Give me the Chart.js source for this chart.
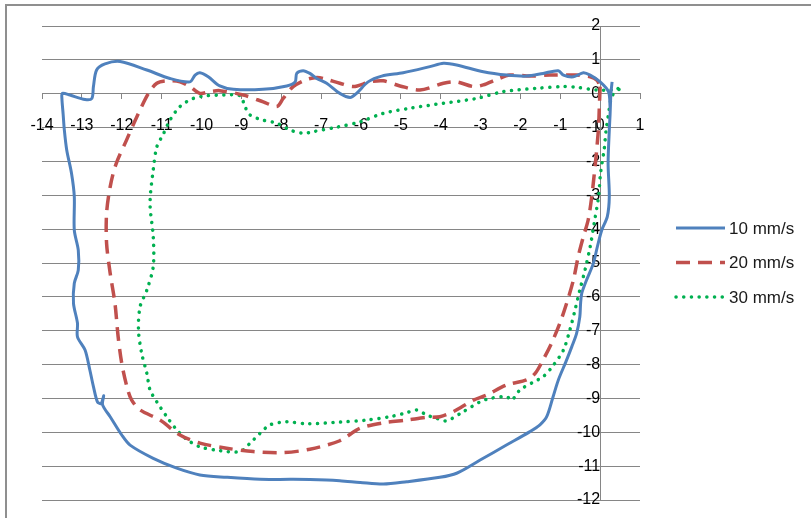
<!DOCTYPE html>
<html>
<head>
<meta charset="utf-8">
<script src="https://cdn.jsdelivr.net/npm/chart.js@4.4.0/dist/chart.umd.min.js"></script>
<style>
  body { margin: 0; background: #fff; }
  #wrap { position: relative; width: 811px; height: 518px; }
</style>
</head>
<body>
<div id="wrap"><canvas id="myChart" width="811" height="518"></canvas></div>
<script>
// series labels
const seriesNames = ['10 mm/s', '20 mm/s', '30 mm/s'];

// 10 mm/s
const x10 = [0.30, 0.27, 0.25, 0.23, 0.20, 0.23, 0.18, 0.04, -0.07, -0.17, -0.34, -0.46, -0.49, -0.51, -0.59, -0.71, -0.86, -1.05, -1.18, -1.34, -1.51, -1.76, -2.34, -3.01, -3.60, -4.02, -4.85, -5.44, -6.02, -6.53, -6.86, -7.70, -8.53, -9.37, -10.04, -10.62, -11.21, -11.79, -12.00, -12.29, -12.48, -12.45, -12.52, -12.61, -12.71, -12.80, -12.92, -13.11, -13.11, -13.21, -13.19, -13.09, -13.09, -13.19, -13.19, -13.26, -13.38, -13.44, -13.47, -13.50, -13.49, -13.30, -12.92, -12.75, -12.71, -12.63, -12.42, -12.04, -11.37, -10.79, -10.29, -10.16, -10.04, -9.83, -9.54, -9.20, -8.46, -7.86, -7.65, -7.61, -7.45, -7.28, -7.11, -6.86, -6.53, -6.27, -6.11, -5.82, -5.48, -4.94, -4.27, -3.93, -3.60, -2.93, -2.34, -1.84, -1.43, -1.05, -0.92, -0.67, -0.42, -0.25, 0.00, 0.21, 0.25];
const y10 = [0.35, 0.00, -0.60, -1.07, -2.06, -3.04, -3.63, -4.03, -4.52, -5.01, -5.50, -5.89, -6.19, -6.59, -7.08, -7.47, -7.92, -8.46, -8.95, -9.54, -9.78, -9.98, -10.37, -10.82, -11.21, -11.33, -11.46, -11.53, -11.48, -11.43, -11.41, -11.39, -11.39, -11.33, -11.26, -11.06, -10.77, -10.38, -10.08, -9.54, -9.19, -8.92, -9.15, -9.10, -8.65, -8.16, -7.57, -7.18, -6.78, -6.19, -5.60, -5.21, -4.62, -4.03, -3.04, -2.35, -1.66, -1.07, -0.60, -0.15, 0.01, -0.04, -0.17, -0.14, 0.21, 0.70, 0.88, 0.95, 0.70, 0.45, 0.35, 0.55, 0.62, 0.50, 0.23, 0.13, 0.13, 0.23, 0.35, 0.60, 0.68, 0.60, 0.45, 0.31, 0.01, -0.11, 0.01, 0.35, 0.52, 0.62, 0.80, 0.90, 0.85, 0.65, 0.55, 0.52, 0.60, 0.68, 0.55, 0.50, 0.62, 0.55, 0.35, 0.06, -0.40];

// 20 mm/s
const x20 = [0.00, -0.02, -0.04, -0.08, -0.12, -0.21, -0.30, -0.42, -0.55, -0.67, -0.84, -1.01, -1.22, -1.43, -1.63, -1.84, -2.34, -2.85, -3.18, -3.68, -4.02, -4.35, -4.85, -5.44, -6.02, -6.53, -7.28, -7.95, -8.70, -9.37, -10.04, -10.54, -11.04, -11.54, -11.75, -11.86, -12.00, -12.09, -12.17, -12.29, -12.38, -12.38, -12.29, -12.15, -11.88, -11.62, -11.33, -11.12, -10.87, -10.54, -10.29, -10.04, -9.79, -9.54, -8.95, -8.45, -8.11, -7.95, -7.70, -7.36, -7.10, -6.94, -6.53, -6.19, -5.77, -5.44, -5.02, -4.52, -3.93, -3.60, -3.18, -2.93, -2.60, -2.26, -1.76, -1.26, -0.59, -0.25, -0.08, 0.00];
const y20 = [0.21, -0.38, -1.00, -1.57, -2.06, -3.04, -3.73, -4.22, -4.81, -5.50, -6.19, -6.78, -7.37, -7.86, -8.26, -8.45, -8.60, -8.90, -9.05, -9.39, -9.54, -9.56, -9.64, -9.72, -9.88, -10.25, -10.50, -10.60, -10.57, -10.47, -10.32, -10.08, -9.64, -9.34, -9.05, -8.70, -7.96, -7.18, -6.19, -5.30, -4.42, -3.53, -2.75, -2.10, -1.37, -0.68, 0.01, 0.31, 0.38, 0.35, 0.21, 0.01, 0.06, 0.09, -0.04, -0.24, -0.38, -0.14, 0.21, 0.42, 0.48, 0.45, 0.31, 0.21, 0.35, 0.38, 0.23, 0.11, 0.31, 0.35, 0.21, 0.26, 0.42, 0.55, 0.52, 0.55, 0.55, 0.50, 0.40, 0.21];

// 30 mm/s
const x30 = [0.45, 0.29, 0.20, 0.15, 0.10, 0.01, -0.04, -0.15, -0.25, -0.38, -0.51, -0.63, -0.76, -0.92, -1.18, -1.43, -1.68, -2.01, -2.22, -2.34, -2.76, -3.01, -3.43, -3.85, -4.10, -4.35, -4.60, -4.85, -5.27, -5.86, -6.53, -7.36, -7.86, -8.28, -8.53, -8.78, -9.03, -9.54, -10.04, -10.37, -10.62, -10.87, -11.12, -11.29, -11.37, -11.50, -11.58, -11.54, -11.37, -11.21, -11.21, -11.29, -11.21, -11.12, -10.96, -10.79, -10.54, -10.21, -9.87, -9.45, -9.03, -8.91, -8.78, -8.45, -8.11, -7.78, -7.45, -7.20, -6.61, -6.02, -5.44, -4.77, -3.93, -3.10, -2.43, -1.59, -0.92, -0.59, -0.08, 0.25, 0.50];
const y30 = [0.15, -0.09, -0.68, -1.07, -1.66, -2.35, -3.04, -3.83, -4.52, -5.21, -5.80, -6.39, -6.98, -7.57, -8.03, -8.36, -8.52, -8.75, -9.05, -8.95, -9.00, -9.10, -9.39, -9.66, -9.59, -9.49, -9.34, -9.42, -9.54, -9.64, -9.70, -9.75, -9.69, -9.78, -10.03, -10.32, -10.57, -10.54, -10.43, -10.21, -9.93, -9.54, -9.10, -8.75, -8.26, -7.67, -6.98, -6.29, -5.80, -5.11, -4.22, -3.24, -2.25, -1.57, -1.20, -0.78, -0.38, -0.14, -0.06, -0.04, -0.06, -0.38, -0.63, -0.78, -0.87, -1.07, -1.17, -1.12, -0.99, -0.83, -0.58, -0.43, -0.28, -0.14, 0.06, 0.16, 0.21, 0.19, 0.11, 0.11, 0.13];

// axis ranges
const xTicks = { min: -14, max: 1, step: 1 };
const yTicks = { min: -12, max: 2, step: 1 };

function pts(xs, ys) {
    return xs.map((x, i) => ({ x: x, y: ys[i] }));
}

const gridGray = '#868686';
const tickFont = { family: 'Liberation Sans', size: 16 };

// frame of the excel chart + legend on the right
const extras = {
    id: 'extras',
    beforeDraw(chart) {
        const ctx = chart.ctx;
        ctx.save();
        ctx.strokeStyle = '#8f8f8f';
        ctx.lineWidth = 2;
        ctx.beginPath();
        ctx.moveTo(6, 518);
        ctx.lineTo(6, 5);
        ctx.lineTo(811, 5);
        ctx.stroke();
        ctx.restore();
    },
    afterDraw(chart) {
        const ctx = chart.ctx;
        ctx.save();
        chart.data.datasets.forEach((ds, i) => {
            const y = 228 + i * 34.5;
            ctx.strokeStyle = ds.borderColor;
            ctx.lineWidth = ds.borderWidth;
            ctx.lineCap = ds.borderCapStyle || 'butt';
            ctx.setLineDash(ds.borderDash || []);
            ctx.beginPath();
            ctx.moveTo(676, y);
            ctx.lineTo(725, y);
            ctx.stroke();
            ctx.setLineDash([]);
            ctx.fillStyle = '#1a1a1a';
            ctx.font = '17px "Liberation Sans"';
            ctx.textBaseline = 'middle';
            ctx.fillText(ds.label, 729, y + 1);
        });
        ctx.restore();
    }
};

const scatterConfig = {
    type: 'scatter',
    data: {
        datasets: [{
            label: seriesNames[0],
            data: pts(x10, y10),
            showLine: true,
            borderColor: '#4F81BD',
            backgroundColor: '#4F81BD',
            borderWidth: 3,
            pointRadius: 0,
            tension: 0.3
        }, {
            label: seriesNames[1],
            data: pts(x20, y20),
            showLine: true,
            borderColor: '#C0504D',
            backgroundColor: '#C0504D',
            borderWidth: 3.5,
            borderDash: [14, 8],
            pointRadius: 0,
            tension: 0.3
        }, {
            label: seriesNames[2],
            data: pts(x30, y30),
            showLine: true,
            borderColor: '#00B050',
            backgroundColor: '#00B050',
            borderWidth: 3.5,
            borderDash: [0.1, 7.6],
            borderCapStyle: 'round',
            pointRadius: 0,
            tension: 0.3
        }]
    },
    options: {
        responsive: false,
        animation: false,
        layout: {
            padding: { left: 42, top: 26, right: 171, bottom: 18 }
        },
        plugins: {
            legend: { display: false },
            tooltip: { enabled: false }
        },
        scales: {
            x: {
                type: 'linear',
                position: { y: 0 },
                min: xTicks.min,
                max: xTicks.max,
                ticks: {
                    stepSize: xTicks.step,
                    color: '#000',
                    font: tickFont,
                    padding: 17,
                    maxRotation: 0,
                    autoSkip: false
                },
                grid: {
                    display: true,
                    drawOnChartArea: false,
                    drawTicks: true,
                    tickLength: 5,
                    color: gridGray
                },
                border: { display: true, color: gridGray, width: 1 }
            },
            y: {
                type: 'linear',
                position: { x: 0 },
                min: yTicks.min,
                max: yTicks.max,
                ticks: {
                    stepSize: yTicks.step,
                    color: '#000',
                    font: tickFont,
                    padding: 8,
                    autoSkip: false
                },
                grid: {
                    color: gridGray,
                    lineWidth: 1,
                    drawTicks: true,
                    tickLength: 9
                },
                border: { display: true, color: gridGray, width: 1 }
            }
        }
    },
    plugins: [extras]
};

var myChart = new Chart(
    document.getElementById('myChart'),
    scatterConfig
);
</script>
</body>
</html>
